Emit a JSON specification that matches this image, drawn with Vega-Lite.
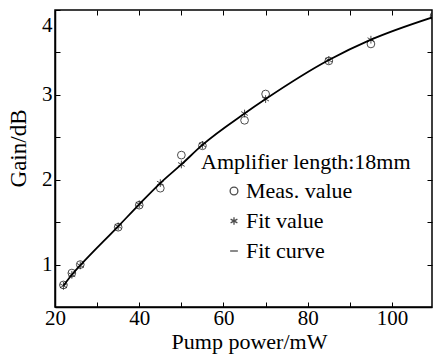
{
  "$schema": "https://vega.github.io/schema/vega-lite/v6.json",
  "width": 377,
  "height": 297,
  "autosize": {"type": "none"},
  "padding": {"left": 55, "top": 10, "right": 4, "bottom": 47},
  "background": "white",
  "config": {
    "font": "Liberation Serif",
    "view": {"stroke": "black", "strokeWidth": 1.5},
    "style": {
      "guide-label": {"font": "Liberation Serif", "fill": "black"},
      "guide-title": {"font": "Liberation Serif", "fill": "black", "fontWeight": "normal"}
    },
    "axis": {
      "grid": false,
      "domainColor": "black",
      "domainWidth": 1.5,
      "tickColor": "black",
      "tickWidth": 1,
      "tickSize": -5,
      "labelColor": "black",
      "labelFont": "Liberation Serif",
      "labelFontSize": 21,
      "titleColor": "black",
      "titleFont": "Liberation Serif",
      "titleFontWeight": "normal",
      "titleFontSize": 22
    },
    "legend": {
      "titleFont": "Liberation Serif",
      "titleFontSize": 22,
      "titleFontWeight": "normal",
      "titleColor": "black",
      "labelFont": "Liberation Serif",
      "labelFontSize": 22,
      "labelColor": "black",
      "titleLimit": 400,
      "labelLimit": 300
    }
  },
  "data": {
    "values": [
      {"p": 22, "g": 0.76, "s": "Meas. value"},
      {"p": 24, "g": 0.90, "s": "Meas. value"},
      {"p": 26, "g": 1.00, "s": "Meas. value"},
      {"p": 35, "g": 1.44, "s": "Meas. value"},
      {"p": 40, "g": 1.70, "s": "Meas. value"},
      {"p": 45, "g": 1.90, "s": "Meas. value"},
      {"p": 50, "g": 2.29, "s": "Meas. value"},
      {"p": 55, "g": 2.40, "s": "Meas. value"},
      {"p": 65, "g": 2.70, "s": "Meas. value"},
      {"p": 70, "g": 3.01, "s": "Meas. value"},
      {"p": 85, "g": 3.40, "s": "Meas. value"},
      {"p": 95, "g": 3.60, "s": "Meas. value"},
      {"p": 110, "g": 3.93, "s": "Meas. value"},
      {"p": 22, "g": 0.75, "s": "Fit value"},
      {"p": 24, "g": 0.88, "s": "Fit value"},
      {"p": 26, "g": 0.99, "s": "Fit value"},
      {"p": 35, "g": 1.45, "s": "Fit value"},
      {"p": 40, "g": 1.71, "s": "Fit value"},
      {"p": 45, "g": 1.96, "s": "Fit value"},
      {"p": 50, "g": 2.18, "s": "Fit value"},
      {"p": 55, "g": 2.41, "s": "Fit value"},
      {"p": 65, "g": 2.78, "s": "Fit value"},
      {"p": 70, "g": 2.95, "s": "Fit value"},
      {"p": 85, "g": 3.41, "s": "Fit value"},
      {"p": 95, "g": 3.65, "s": "Fit value"},
      {"p": 110, "g": 3.92, "s": "Fit value"}
    ]
  },
  "resolve": {"axis": {"x": "independent", "y": "independent"}},
  "layer": [
    {
      "transform": [{"filter": "datum.s == 'Fit value'"}],
      "mark": {"type": "line", "color": "black", "strokeWidth": 1.8, "interpolate": "monotone", "clip": true},
      "encoding": {
        "x": {
          "field": "p", "type": "quantitative",
          "scale": {"domain": [20, 109.5], "nice": false, "zero": false},
          "axis": {
            "orient": "bottom",
            "values": [20, 30, 40, 50, 60, 70, 80, 90, 100],
            "format": "d",
            "labelExpr": "datum.value % 20 == 0 ? datum.label : ''",
            "labelFont": "Liberation Serif",
            "labelFlush": false,
            "labelPadding": 5,
            "title": "Pump power/mW",
            "titleFont": "Liberation Serif",
            "titleX": 194,
            "titleY": 41,
            "titleAlign": "center",
            "titleBaseline": "alphabetic"
          }
        },
        "y": {
          "field": "g", "type": "quantitative",
          "scale": {"domain": [0.5, 4], "nice": false, "zero": false},
          "axis": {
            "orient": "left",
            "values": [0.5, 1, 1.5, 2, 2.5, 3, 3.5, 4],
            "labelExpr": "datum.value == 1 ? '1' : datum.value == 2 ? '2' : datum.value == 3 ? '3' : datum.value == 4 ? '4' : ''",
            "labelFont": "Liberation Serif",
            "labelFlush": true,
            "labelFlushOffset": -4,
            "labelPadding": 8,
            "title": "Gain/dB",
            "titleFont": "Liberation Serif",
            "titleFontSize": 23,
            "titleAngle": -90,
            "titleX": -30,
            "titleY": 138,
            "titleAlign": "center",
            "titleBaseline": "alphabetic"
          }
        }
      }
    },
    {
      "mark": {"type": "point", "filled": false, "color": "black", "strokeWidth": 1, "size": 60, "clip": true},
      "encoding": {
        "x": {
          "field": "p", "type": "quantitative",
          "scale": {"domain": [20, 109.5], "nice": false, "zero": false},
          "axis": {"orient": "top", "values": [30, 40, 50, 60, 70, 80, 90, 100], "labels": false, "title": null, "domain": false}
        },
        "y": {
          "field": "g", "type": "quantitative",
          "scale": {"domain": [0.5, 4], "nice": false, "zero": false},
          "axis": {"orient": "right", "values": [1, 1.5, 2, 2.5, 3, 3.5], "labels": false, "title": null, "domain": false}
        },
        "shape": {
          "field": "s", "type": "nominal",
          "scale": {
            "domain": ["Meas. value", "Fit value", "Fit curve"],
            "range": ["circle", "M0,-1L0,1M-0.87,-0.5L0.87,0.5M-0.87,0.5L0.87,-0.5", "stroke"]
          },
          "legend": {
            "title": "Amplifier length:18mm",
            "titleFont": "Liberation Serif",
            "labelFont": "Liberation Serif",
            "orient": "none",
            "legendX": 146,
            "legendY": 142,
            "padding": 0,
            "symbolOffset": 22,
            "labelOffset": 1,
            "rowPadding": 8,
            "titlePadding": 6,
            "symbolSize": 60,
            "symbolStrokeColor": "black",
            "symbolStrokeWidth": 1.3
          }
        }
      }
    }
  ]
}
